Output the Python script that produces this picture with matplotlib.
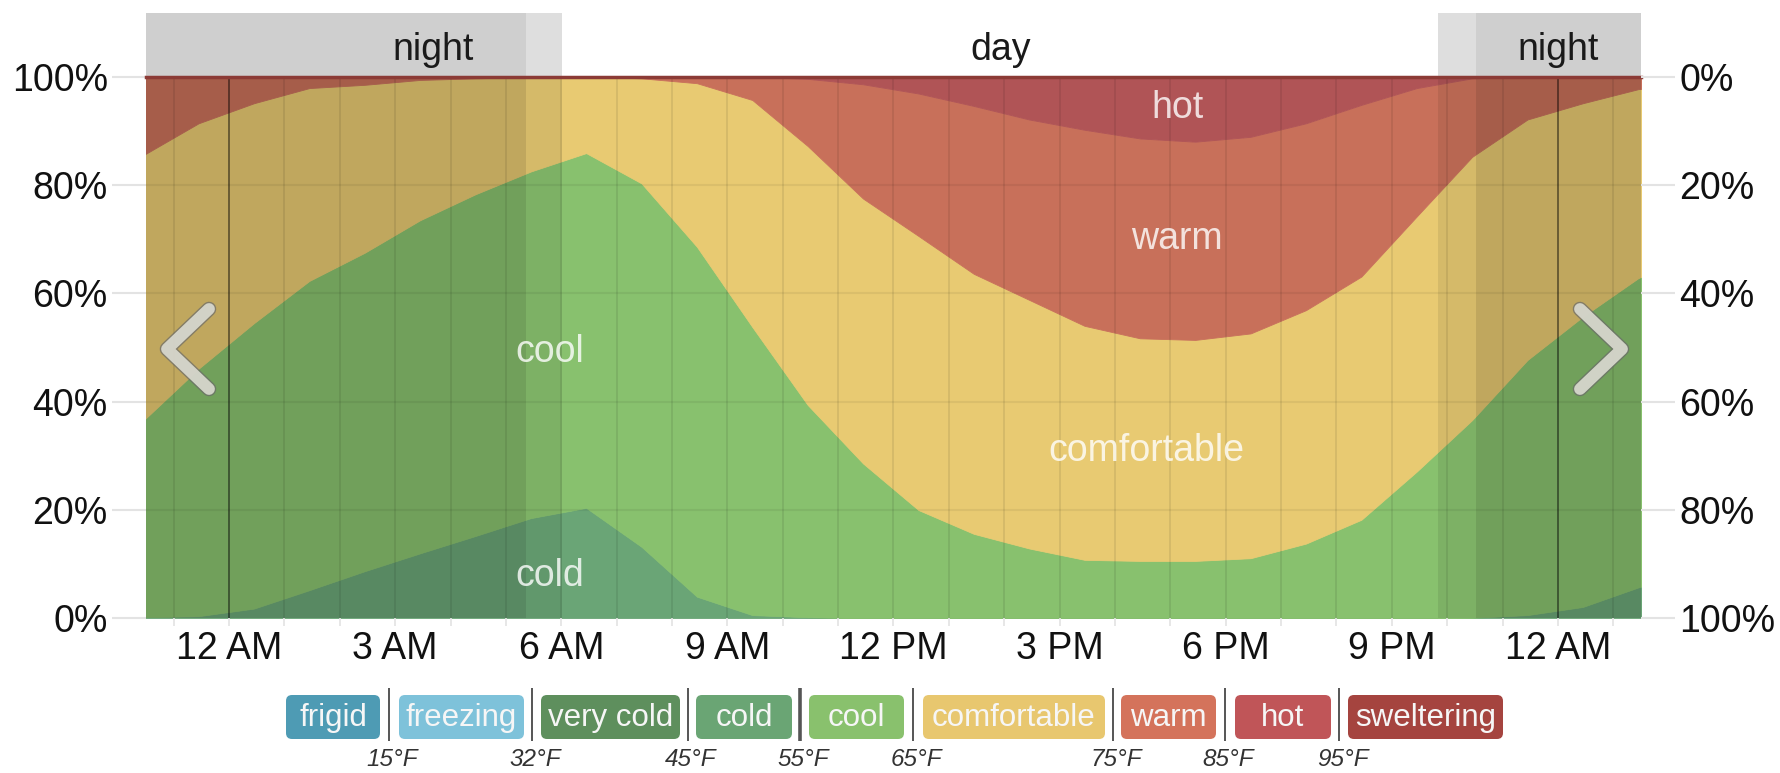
import numpy as np
import matplotlib
matplotlib.use("Agg")
import matplotlib.pyplot as plt
from matplotlib.patches import FancyBboxPatch, Rectangle
from matplotlib.transforms import blended_transform_factory
import matplotlib.patheffects as pe

plt.rcParams['font.family'] = ['Liberation Sans', 'DejaVu Sans']

W, H = 1781, 773

# sample times (hour of day) across the visible window
hours = [-1.55, -0.55, 0.45, 1.45, 2.45, 3.45, 4.45, 5.45, 6.45, 7.45,
         8.45, 9.45, 10.45, 11.45, 12.45, 13.45, 14.45, 15.45, 16.45,
         17.45, 18.45, 19.45, 20.45, 21.45, 22.45, 23.45, 24.45, 25.45, 26.45]

# share of hours (%) in each temperature band
cold_pct = [0.2, 0.4, 1.8, 5.2, 8.7, 12.0, 15.2, 18.5, 20.4, 13.2, 4.0, 0.6,
            0.2, 0, 0, 0, 0, 0, 0, 0, 0, 0, 0, 0, 0.1, 0.6, 2.1, 5.7, 8.7]
cool_pct = [36.3, 45.7, 52.7, 57.1, 58.8, 61.5, 63.1, 64.0, 65.5, 67.1, 64.6,
            53.2, 39.2, 28.6, 20.0, 15.6, 12.9, 10.8, 10.6, 10.6, 11.1, 13.8,
            18.2, 27.1, 36.5, 47.1, 53.6, 57.1, 58.8]
comfortable_pct = [49.0, 45.3, 40.6, 35.6, 31.0, 25.9, 21.4, 17.4, 14.1, 19.4,
                   30.2, 41.9, 47.8, 48.9, 50.6, 48.0, 45.9, 43.2, 41.1, 40.8,
                   41.5, 43.1, 44.9, 47.1, 48.6, 44.4, 39.4, 34.9, 31.0]
warm_pct = [14.5, 8.6, 4.9, 2.1, 1.5, 0.6, 0.3, 0.1, 0, 0.3, 1.2, 4.3, 12.4,
            21.1, 26.3, 31.0, 33.3, 36.2, 36.9, 36.6, 36.3, 34.5, 31.7, 23.7,
            14.5, 7.9, 4.9, 2.3, 1.5]
hot_pct = [0, 0, 0, 0, 0, 0, 0, 0, 0, 0, 0, 0, 0.4, 1.4, 3.1, 5.4, 7.9, 9.8,
           11.4, 12.0, 11.1, 8.6, 5.2, 2.1, 0.3, 0, 0, 0, 0]

band_colors = ['#6aa576', '#88c16e', '#e8ca72', '#c8705a', '#b05456']

# night and twilight spans (hours)
night_spans = [(-1.5, 5.37), (22.52, 25.5)]
twilight_spans = [(5.37, 6.02), (21.84, 22.52)]

x_tick_hours = [0, 3, 6, 9, 12, 15, 18, 21, 24]
x_tick_labels = ['12 AM', '3 AM', '6 AM', '9 AM', '12 PM', '3 PM', '6 PM',
                 '9 PM', '12 AM']
y_ticks = [0, 20, 40, 60, 80, 100]

legend_labels = ['frigid', 'freezing', 'very cold', 'cold', 'cool',
                 'comfortable', 'warm', 'hot', 'sweltering']
legend_colors = ['#4e9bb4', '#7ec2da', '#5e8f5d', '#6aa574', '#89c16d',
                 '#e8c76f', '#d4735b', '#c05558', '#a5443f']
threshold_labels = ['15°F', '32°F', '45°F', '55°F', '65°F', '75°F', '85°F',
                    '95°F']

fig = plt.figure(figsize=(W / 100, H / 100), dpi=100, facecolor='white')

ax_l, ax_r, ax_t, ax_b = 146, 1641, 76.7, 618.3
ax = fig.add_axes([ax_l / W, 1 - ax_b / H, (ax_r - ax_l) / W, (ax_b - ax_t) / H])
ax.set_xlim(-1.5, 25.5)
ax.set_ylim(0, 100)

ax.stackplot(hours, cold_pct, cool_pct, comfortable_pct, warm_pct, hot_pct,
             colors=band_colors, linewidth=0.6, edgecolor='face', zorder=1)

# night / twilight shading over the plot
for a, b in night_spans:
    ax.axvspan(a, b, color='black', alpha=0.17, lw=0, zorder=2)
for a, b in twilight_spans:
    ax.axvspan(a, b, color='black', alpha=0.08, lw=0, zorder=2)

# hour grid
for h in range(-1, 26):
    strong = h % 24 == 0
    ax.axvline(h, color='black', alpha=0.45 if strong else 0.08, lw=1.4, zorder=3)
for v in (20, 40, 60, 80):
    ax.axhline(v, color='black', alpha=0.06, lw=1.5, zorder=3)
ax.axhline(100, color='#8c3b36', lw=2.5, zorder=4, clip_on=False)

for s in ax.spines.values():
    s.set_visible(False)

ax.set_yticks(y_ticks)
ax.set_yticklabels([f'{v}%' for v in y_ticks])
ax.tick_params(axis='y', length=24.5, width=1.5, color='#e3e3e3', pad=3,
               labelsize=27, labelcolor='#111111')
ax.set_xticks(x_tick_hours)
ax.set_xticklabels(x_tick_labels)
ax.set_xticks(range(-1, 26), minor=True)
ax.tick_params(axis='x', which='both', length=6, width=1.2, color='#e3e3e3',
               pad=3.5, labelsize=27, labelcolor='#111111')

ax2 = ax.twinx()
ax2.set_ylim(0, 100)
ax2.set_yticks(y_ticks)
ax2.set_yticklabels([f'{100 - v}%' for v in y_ticks])
ax2.tick_params(axis='y', length=24.5, width=1.5, color='#e3e3e3', pad=3,
                labelsize=27, labelcolor='#111111')
for s in ax2.spines.values():
    s.set_visible(False)

# day / night band above the plot
trans = blended_transform_factory(ax.transData, ax.transAxes)
band_h = 0.1176
for a, b in night_spans:
    ax.add_patch(Rectangle((a, 1.0), b - a, band_h, transform=trans,
                           color='#cfcfcf', lw=0, clip_on=False, zorder=0))
for a, b in twilight_spans:
    ax.add_patch(Rectangle((a, 1.0), b - a, band_h, transform=trans,
                           color='#dedede', lw=0, clip_on=False, zorder=0))
for x, lab in ((3.68, 'night'), (13.93, 'day'), (24.0, 'night')):
    ax.text(x, 1.05, lab, transform=trans, ha='center', va='center',
            fontsize=27, color='#1a1a1a', clip_on=False)

# band labels inside the plot
for x, y, lab in ((17.13, 94.2, 'hot'), (17.11, 70.1, 'warm'),
                  (5.79, 49.2, 'cool'), (16.57, 30.9, 'comfortable'),
                  (5.79, 7.8, 'cold')):
    ax.text(x, y, lab, ha='center', va='center', fontsize=27, color='white',
            alpha=0.8, zorder=5)

# overlay in pixel units for legend and navigation arrows
ov = fig.add_axes([0, 0, 1, 1])
ov.set_xlim(0, W)
ov.set_ylim(H, 0)
ov.axis('off')

legend_box_px = [(286, 380), (399, 524), (541, 680), (696, 792), (809, 904),
                 (923, 1105), (1121, 1216), (1235, 1331), (1348, 1503)]
box_top, box_bot = 695, 739
for (x0, x1), lab, col in zip(legend_box_px, legend_labels, legend_colors):
    ov.add_patch(FancyBboxPatch((x0 + 6, box_top + 6), x1 - x0 - 12,
                                box_bot - box_top - 12,
                                boxstyle='round,pad=6', fc=col, ec='none'))
    ov.text((x0 + x1) / 2, (box_top + box_bot) / 2 + 1, lab, ha='center',
            va='center', fontsize=22.5, color='#f6f6f6')

for i, lab in enumerate(threshold_labels):
    xs = (legend_box_px[i][1] + legend_box_px[i + 1][0]) / 2
    ov.plot([xs, xs], [688, 741], color='#555555',
            lw=2.6 if lab == '55°F' else 1.4, solid_capstyle='butt')
    ov.text(xs + 3, 760, lab, ha='center', va='center', fontsize=17.5,
            style='italic', color='#333333')

for pts in (((209, 309), (167, 349), (209, 389)),
            ((1580, 309), (1622, 349), (1580, 389))):
    xs, ys = zip(*pts)
    ov.plot(xs, ys, color='#dcdcd2', lw=8.5, alpha=0.9, solid_capstyle='round',
            solid_joinstyle='round',
            path_effects=[pe.Stroke(linewidth=10.5, foreground='#6a6a6a', alpha=0.7),
                          pe.Normal()])

fig.savefig('out.png', dpi=100, facecolor='white')
